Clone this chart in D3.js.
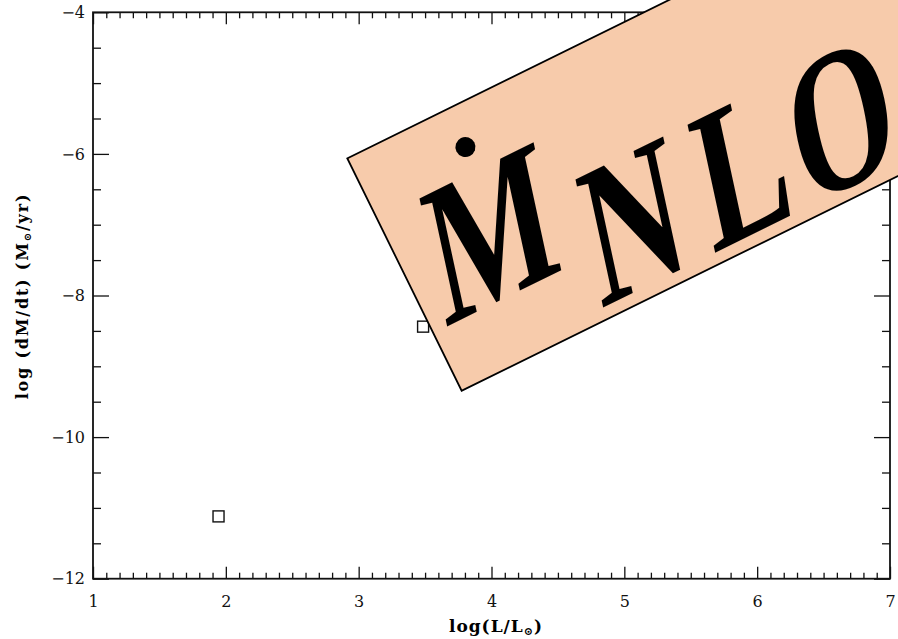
<!DOCTYPE html>
<html>
<head>
<meta charset="utf-8">
<script src="https://cdn.jsdelivr.net/npm/d3@7"></script>
<style>
  body { margin: 0; background: #fff; }
  svg { display: block; }
</style>
</head>
<body>
<svg id="chart" width="898" height="639"></svg>
<script>
// data
const logL = [1.945, 3.485];
const logMdot = [-11.12, -8.44];
const xMajor = [1, 2, 3, 4, 5, 6, 7];
const yMajor = [-12, -10, -8, -6, -4];
const stampLetters = ['N', 'L', 'O', 'G'];

const svg = d3.select('#chart');
const width = +svg.attr('width');
const height = +svg.attr('height');
const margin = { top: 12.3, right: 8, bottom: 60.3, left: 93 };
const innerW = width - margin.left - margin.right;
const innerH = height - margin.top - margin.bottom;

const x = d3.scaleLinear().domain([1, 7]).range([0, innerW]);
const y = d3.scaleLinear().domain([-12, -4]).range([innerH, 0]);

const xMinor = d3.range(1, 7.0001, 0.1).map(v => +v.toFixed(1)).filter(v => !xMajor.includes(v));
const yMinor = d3.range(-12, -3.9999, 0.5).filter(v => !yMajor.includes(v));

const g = svg.append('g')
    .attr('transform', `translate(${margin.left},${margin.top})`);

const tickFont = 'DejaVu Serif';

function styleAxis(sel) {
    sel.select('.domain').remove();
    sel.selectAll('line').attr('stroke', '#111').attr('stroke-width', 1.3);
    sel.selectAll('text').attr('font-family', tickFont).attr('font-size', 16).attr('fill', '#111');
}

// bottom
g.append('g').attr('transform', `translate(0,${innerH})`)
    .call(d3.axisBottom(x).tickValues(xMinor).tickSize(-6).tickFormat(''))
    .call(styleAxis);
g.append('g').attr('transform', `translate(0,${innerH})`)
    .call(d3.axisBottom(x).tickValues(xMajor).tickSize(-12).tickPadding(17).tickFormat(d3.format('d')))
    .call(styleAxis);
// top
g.append('g')
    .call(d3.axisTop(x).tickValues(xMinor).tickSize(-6).tickFormat(''))
    .call(styleAxis);
g.append('g')
    .call(d3.axisTop(x).tickValues(xMajor).tickSize(-12).tickFormat(''))
    .call(styleAxis);
// left
g.append('g')
    .call(d3.axisLeft(y).tickValues(yMinor).tickSize(-8).tickFormat(''))
    .call(styleAxis);
g.append('g')
    .call(d3.axisLeft(y).tickValues(yMajor).tickSize(-16).tickPadding(8).tickFormat(d3.format('d')))
    .call(styleAxis);
// right
g.append('g').attr('transform', `translate(${innerW},0)`)
    .call(d3.axisRight(y).tickValues(yMinor).tickSize(-8).tickFormat(''))
    .call(styleAxis);
g.append('g').attr('transform', `translate(${innerW},0)`)
    .call(d3.axisRight(y).tickValues(yMajor).tickSize(-16).tickFormat(''))
    .call(styleAxis);

// frame
g.append('rect')
    .attr('width', innerW)
    .attr('height', innerH)
    .attr('fill', 'none')
    .attr('stroke', '#111')
    .attr('stroke-width', 1.8);

// points
const sq = 11;
g.selectAll('.pt')
    .data(logL.map((v, i) => [v, logMdot[i]]))
    .join('rect')
    .attr('class', 'pt')
    .attr('x', d => x(d[0]) - sq / 2)
    .attr('y', d => y(d[1]) - sq / 2)
    .attr('width', sq)
    .attr('height', sq)
    .attr('fill', 'none')
    .attr('stroke', '#111')
    .attr('stroke-width', 1.4);

// axis titles
const xt = svg.append('text')
    .attr('x', 496)
    .attr('y', 632)
    .attr('text-anchor', 'middle')
    .attr('font-family', tickFont)
    .attr('font-size', 17)
    .attr('letter-spacing', 1)
    .attr('font-weight', 'bold');
xt.append('tspan').text('log(L/L');
xt.append('tspan').attr('font-size', 11).attr('dy', 3).text('\u2299');
xt.append('tspan').attr('dy', -3).text(')');

const yt = svg.append('text')
    .attr('transform', 'translate(28,296) rotate(-90)')
    .attr('text-anchor', 'middle')
    .attr('font-family', tickFont)
    .attr('font-size', 16)
    .attr('letter-spacing', 1.8)
    .attr('font-weight', 'bold');
yt.append('tspan').text('log (dM/dt) (M');
yt.append('tspan').attr('font-size', 10).attr('dy', 3).text('\u2299');
yt.append('tspan').attr('dy', -3).text('/yr)');

// rotated stamp
const sx = 0.73;
const stamp = svg.append('g')
    .attr('transform', 'translate(347.3,158.3) rotate(-26.2)');
stamp.append('rect')
    .attr('width', 1000)
    .attr('height', 259)
    .attr('fill', '#f7cbab')
    .attr('stroke', '#000')
    .attr('stroke-width', 1.8);
stamp.append('text')
    .attr('transform', `translate(13,195) skewX(-14) scale(${sx},1)`)
    .attr('font-family', 'Liberation Serif')
    .attr('font-weight', 'bold')
    .attr('font-size', 194)
    .attr('fill', '#000')
    .text('M');
stamp.append('circle')
    .attr('cx', 111)
    .attr('cy', 42)
    .attr('r', 10)
    .attr('fill', '#000');
const letterX = [161, 286, 389, 512];
stamp.append('text')
    .attr('transform', `translate(0,247) skewX(-14) scale(${sx},1)`)
    .attr('font-family', 'Liberation Serif')
    .attr('font-weight', 'bold')
    .attr('font-size', 194)
    .attr('fill', '#000')
    .selectAll('tspan')
    .data(stampLetters)
    .join('tspan')
    .attr('x', (d, i) => letterX[i] / sx)
    .text(d => d);
</script>
</body>
</html>
